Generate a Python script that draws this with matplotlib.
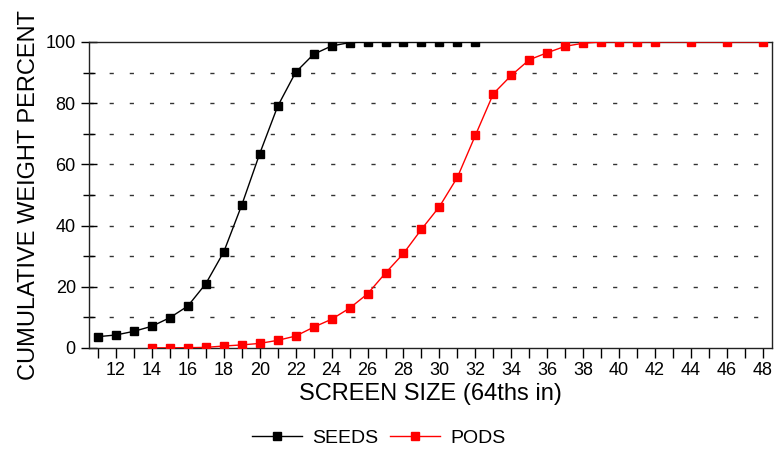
import matplotlib
matplotlib.use("Agg")
import matplotlib.pyplot as plt
from matplotlib.ticker import MultipleLocator

# screen size (64ths in) and cumulative weight percent
seeds_x = list(range(11, 33))
seeds_y = [3.7, 4.25, 5.45, 7.1, 9.9, 13.7, 21.0, 31.4, 46.7, 63.5, 79.0, 90.1,
           96.0, 98.7, 99.8, 100, 100, 100, 100, 100, 100, 100]

pods_x = list(range(14, 43)) + [44, 46, 48]
pods_y = [0.05, 0.05, 0.1, 0.2, 0.65, 1.0, 1.5, 2.5, 3.9, 6.8, 9.4, 13.0, 17.7,
          24.5, 30.9, 38.8, 46.2, 55.8, 69.5, 83.1, 89.1, 94.2, 96.5, 98.6, 99.6,
          100, 100, 100, 100, 100, 100, 100]

xticks = list(range(12, 49, 2))
yticks = [0, 20, 40, 60, 80, 100]

plt.rcParams.update({
    "font.family": ["Liberation Sans", "DejaVu Sans"],
    "font.size": 12,
})

fig = plt.figure(figsize=(7.77, 4.51), dpi=100)
ax = fig.add_axes([0.1145, 0.2284, 0.879, 0.6785])

# dashed horizontal grid every 10
for v in range(10, 100, 10):
    ax.axhline(v, color="#333333", lw=1, dashes=(3, 11.5), zorder=1)

ax.plot(seeds_x, seeds_y, "-s", color="black", lw=1, ms=6, label="SEEDS", zorder=3)
ax.plot(pods_x, pods_y, "-s", color="red", lw=1, ms=6, label="PODS", zorder=3)

ax.set_xlim(10.5, 48.5)
ax.set_ylim(0, 100)
ax.set_xticks(xticks)
ax.xaxis.set_minor_locator(MultipleLocator(1))
ax.set_yticks(yticks)
ax.yaxis.set_minor_locator(MultipleLocator(10))
ax.tick_params(axis="x", which="both", direction="out", length=7, width=1, pad=3, labelsize=13)
ax.tick_params(axis="y", which="major", direction="inout", length=12, width=1, labelsize=13)
ax.tick_params(axis="y", which="minor", direction="inout", length=9, width=1)

for s in ax.spines.values():
    s.set_linewidth(1)
    s.set_color("#222222")

ax.set_xlabel("SCREEN SIZE (64ths in)", fontsize=17, labelpad=3)
ax.set_ylabel("CUMULATIVE WEIGHT PERCENT", fontsize=17, labelpad=4)

fig.legend(loc="center", bbox_to_anchor=(0.487, 13 / 451), ncol=2, frameon=False,
           fontsize=14, handlelength=2.6, columnspacing=0.6, handletextpad=0.5)

fig.savefig("out.png", dpi=100)
